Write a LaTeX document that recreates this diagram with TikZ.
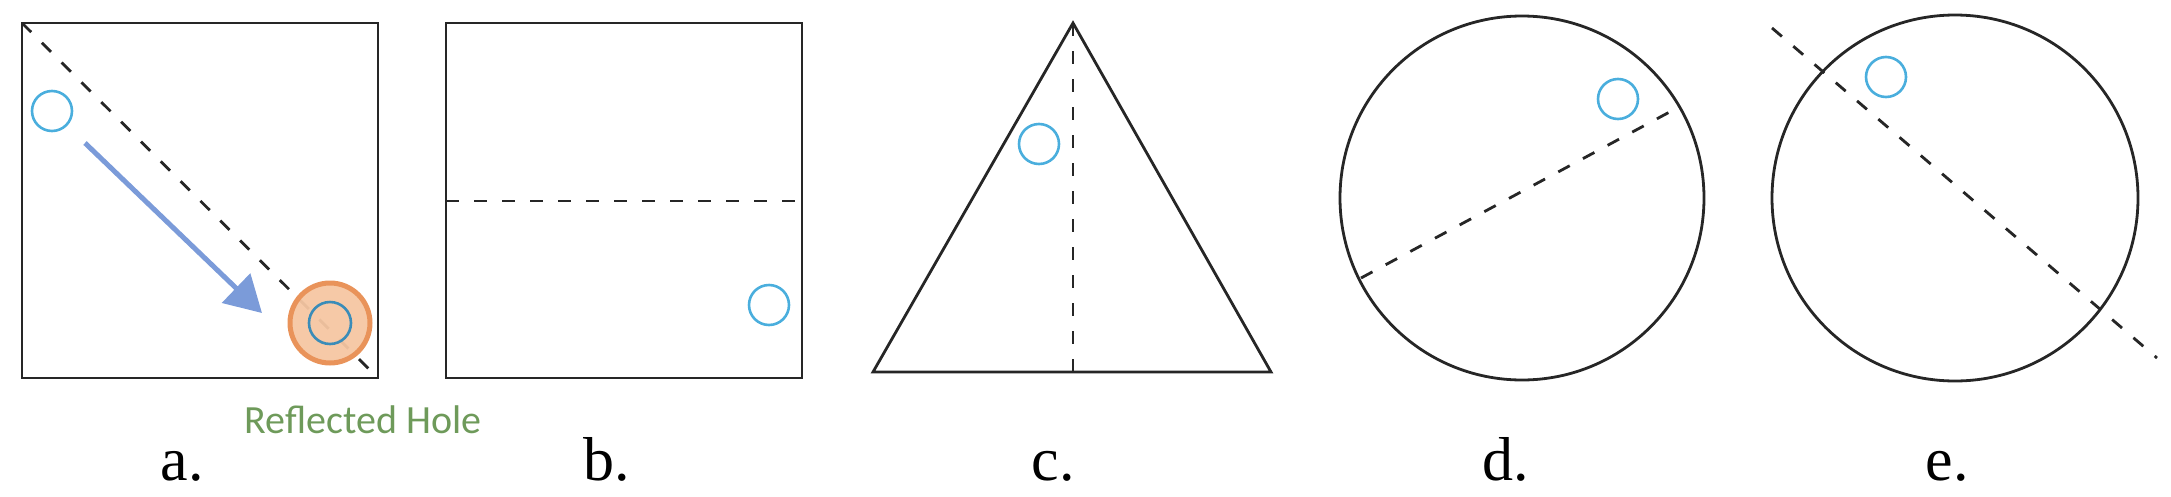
\documentclass[tikz,border=0pt]{standalone}
\usepackage{fontspec}
\setmainfont{Liberation Serif}
\newfontfamily\calib{Carlito}
\usetikzlibrary{arrows.meta}
\definecolor{holeblue}{HTML}{4AAEDD}
\definecolor{innerblue}{HTML}{3A8CB8}
\definecolor{arrowblue}{HTML}{7B9BD9}
\definecolor{orangeedge}{HTML}{E9935A}
\definecolor{orangefill}{HTML}{F5C6A2}
\definecolor{labgreen}{HTML}{6E9A5A}
\tikzset{
  outline/.style={line width=2.8pt, black!85, line join=miter},
  foldline/.style={line width=2.8pt, black!85, dash pattern=on 13pt off 15pt},
  hole/.style={circle, draw=holeblue, line width=2.6pt, minimum size=40pt, inner sep=0pt},
  panellabel/.style={anchor=base, font=\fontsize{62}{70}\selectfont, inner sep=0pt},
}
\begin{document}
\begin{tikzpicture}[x=1pt,y=-1pt]
\useasboundingbox (0,0) rectangle (2171,496);
% ---- panel a ----
\coordinate (aTL) at (22,23);
\coordinate (aBR) at (378,378);
\draw[outline] (aTL) rectangle (aBR);
\draw[foldline] (aTL) -- (aBR);
\node[hole] (aHole) at (52,111) {};
\node[circle, draw=orangeedge, fill=orangefill, fill opacity=0.95, line width=5pt, minimum size=80pt, inner sep=0pt] (aRefl) at (330,323) {};
\node[circle, draw=innerblue, line width=2.6pt, minimum size=42pt, inner sep=0pt] (aReflHole) at (330,323) {};
\coordinate (arS) at (85,143);
\coordinate (arE) at (262,313);
\draw[arrowblue, line width=5pt, -{Triangle[length=36pt,width=40pt]}] (arS) -- (arE);
\node[anchor=base, text=labgreen, font=\calib\fontsize{40}{48}\selectfont, inner sep=0pt] (reflLbl) at (363,433) {Reflected Hole};
\node[panellabel] (la) at (182,480) {a.};
% ---- panel b ----
\coordinate (bTL) at (446,23);
\coordinate (bBR) at (802,378);
\coordinate (bML) at (446,201);
\coordinate (bMR) at (802,201);
\draw[outline] (bTL) rectangle (bBR);
\draw[foldline] (bML) -- (bMR);
\node[hole] (bHole) at (769,305) {};
\node[panellabel] (lb) at (607,480) {b.};
% ---- panel c ----
\coordinate (cT) at (1073,23);
\coordinate (cL) at (873,372);
\coordinate (cR) at (1271,372);
\coordinate (cM) at (1073,372);
\draw[outline] (cT) -- (cR) -- (cL) -- cycle;
\draw[foldline] (cT) -- (cM);
\node[hole] (cHole) at (1039,144) {};
\node[panellabel] (lc) at (1053,480) {c.};
% ---- panel d ----
\coordinate (dC) at (1522,198);
\draw[outline] (dC) circle[radius=182];
\coordinate (dA) at (1361,278);
\coordinate (dB) at (1677,108);
\draw[foldline] (dA) -- (dB);
\node[hole] (dHole) at (1618,99) {};
\node[panellabel] (ld) at (1506,480) {d.};
% ---- panel e ----
\coordinate (eC) at (1955,198);
\draw[outline] (eC) circle[radius=183];
\coordinate (eA) at (1772,28);
\coordinate (eB) at (2157,358);
\draw[foldline] (eA) -- (eB);
\node[hole] (eHole) at (1886,77) {};
\node[panellabel] (le) at (1947,480) {e.};
\end{tikzpicture}
\end{document}
